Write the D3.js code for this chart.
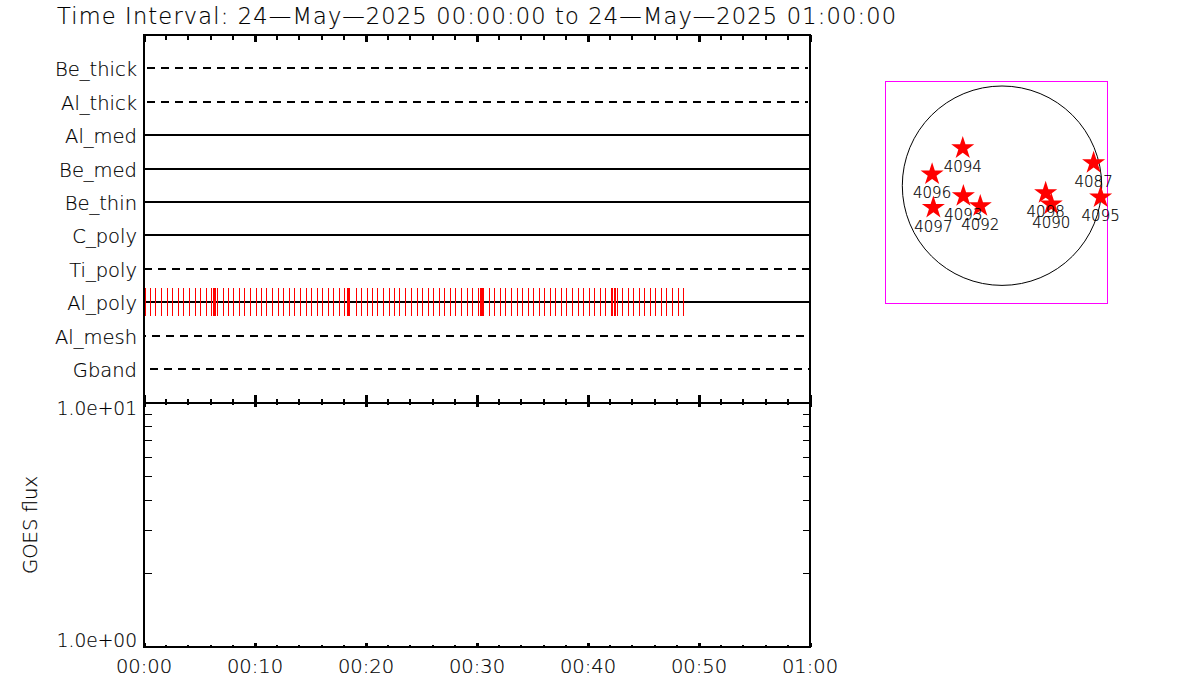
<!DOCTYPE html>
<html><head><meta charset="utf-8">
<script src="https://cdnjs.cloudflare.com/ajax/libs/d3/7.8.5/d3.min.js"></script>
<style>html,body{margin:0;padding:0;background:#fff}svg{display:block}
text{font-family:"DejaVu Sans";font-weight:200;fill:#000;stroke:#000;stroke-width:.18px}</style></head><body>
<svg id="c" width="1200" height="700"></svg>
<script>
const titleText = "Time Interval: 24-May-2025 00:00:00 to 24-May-2025 01:00:00".replace(/-/g,"\u2014");
const filters = ["Be_thick","Al_thick","Al_med","Be_med","Be_thin","C_poly","Ti_poly","Al_poly","Al_mesh","Gband"];
const filterDashed = [true,true,false,false,false,false,true,false,true,true];
const xTickLabels = ["00:00","00:10","00:20","00:30","00:40","00:50","01:00"];
const fluxTicks = [1,10];
const fluxTickLabels = ["1.0e+00","1.0e+01"];
// exposure times on Al_poly, seconds after 00:00:00
const exposureSeconds = [4.5,33,62,91,123,150,183,210,242,273,304,334,361,372,379,386,395,426,453,482,513,540,572,604,632,659,691,722,751,783,810,842,875,902,934,961,994,1021,1053,1080,1097,1103,1110,1145,1172,1205,1232,1260,1291,1323,1350,1378,1410,1442,1475,1502,1534,1561,1594,1621,1653,1680,1712,1745,1772,1804,1815,1820,1826,1831,1864,1891,1923,1950,1983,2015,2042,2075,2102,2134,2161,2194,2221,2253,2280,2313,2345,2372,2404,2431,2464,2491,2523,2532,2538,2544,2556,2583,2615,2642,2675,2702,2734,2761,2794,2821,2853,2886,2913];
const arNames = ["4094","4096","4093","4097","4092","4098","4090","4087","4095"];
const arSolarX = [-374,-666,-368,-654,-207,416,469,873,940];
const arSolarY = [368,118,-89,-200,-184,-60,-168,226,-101];
const solarRadius = 950;

const svg = d3.select("#c");
const L=144,R=810,T=35,M=403,B=647;
const x = d3.scaleLinear().domain([0,3600]).range([L,R]);
const xExp = d3.scaleLinear().domain([0,3600]).range([L+.5,R+.5]);
const yRow = d3.scalePoint().domain(filters).range([68.25,369.25]);
const yFlux = d3.scaleLog().domain([1,10]).range([B,M]);
const sx = d3.scaleLinear().domain([-solarRadius,solarRadius]).range([902.3,1101.7]);
const sy = d3.scaleLinear().domain([-solarRadius,solarRadius]).range([285.4,86]);

// title
svg.append("text").attr("x",57).attr("y",24).attr("font-size",22.5).attr("textLength",839).attr("lengthAdjust","spacing").text(titleText);

// dash pattern: start of the line and where the first dash begins on it
const dashStyle = {Be_thick:[147,147,808],Al_thick:[147,147,808],Ti_poly:[144,144,810],Al_mesh:[145,138,806],Gband:[150,150,810]};
const rows = svg.append("g");
filters.forEach((f,i)=>{
  const y=Math.round(yRow(f));
  rows.append("text").attr("x",137).attr("y",y+8).attr("text-anchor","end").attr("font-size",19.5).text(f);
  const ds=dashStyle[f];
  const ln=rows.append("line").attr("x1",ds?ds[0]:L).attr("x2",ds?ds[2]:R).attr("y1",y).attr("y2",y)
    .attr("stroke","#000").attr("stroke-width",2).attr("shape-rendering","crispEdges");
  if(filterDashed[i]) ln.attr("stroke-dasharray","8 6").attr("stroke-dashoffset",ds[0]-ds[1]);
});
// exposures
const yAl=Math.round(yRow("Al_poly"));
svg.append("g").selectAll("line").data(exposureSeconds).join("line")
  .attr("x1",d=>Math.floor(xExp(d))+.5).attr("x2",d=>Math.floor(xExp(d))+.5).attr("y1",yAl-14).attr("y2",yAl+14)
  .attr("stroke","#f00").attr("stroke-width",1).attr("shape-rendering","crispEdges");
rows.append("line").attr("x1",L).attr("x2",R).attr("y1",yAl).attr("y2",yAl).attr("stroke","#000").attr("stroke-width",2).attr("shape-rendering","crispEdges");

// time axes
const majors=d3.range(0,3601,600), minors=d3.range(0,3601,120).filter(d=>d%600);
function timeTicks(y,up,down,upM,downM){
  const g=svg.append("g").attr("shape-rendering","crispEdges").attr("stroke","#000");
  g.selectAll("line.mi").data(minors).join("line").attr("class","mi").attr("x1",x).attr("x2",x).attr("y1",y-up).attr("y2",y+down).attr("stroke-width",2);
  g.selectAll("line.ma").data(majors).join("line").attr("class","ma").attr("x1",x).attr("x2",x).attr("y1",y-upM).attr("y2",y+downM).attr("stroke-width",3);
}
timeTicks(T,0,5,0,7); timeTicks(M,4,2,8,4); timeTicks(B,2,0,4,0);
// frames
svg.append("g").attr("fill","none").attr("stroke","#000").attr("stroke-width",2).attr("shape-rendering","crispEdges")
  .selectAll("rect").data([[T,M],[M,B]]).join("rect").attr("x",L).attr("width",R-L).attr("y",d=>d[0]).attr("height",d=>d[1]-d[0]);

// flux minor ticks
const fluxMinor=d3.range(2,10);
[[L,L+8],[R,R-7]].forEach(([a,b])=>{
  svg.append("g").selectAll("line").data(fluxMinor).join("line").attr("x1",a).attr("x2",b).attr("y1",yFlux).attr("y2",yFlux)
    .attr("stroke","#000").attr("shape-rendering","crispEdges");
});
// flux labels
svg.append("g").selectAll("text").data(fluxTicks).join("text").attr("x",137).attr("y",d=>yFlux(d)+(d===1?0:12))
  .attr("text-anchor","end").attr("font-size",18.6).text((d,i)=>fluxTickLabels[i]);
svg.append("text").attr("transform","translate(37,525) rotate(-90)").attr("text-anchor","middle").attr("font-size",19.6).text("GOES flux");
// time labels
svg.append("g").selectAll("text").data(xTickLabels).join("text").attr("x",(d,i)=>x(majors[i])).attr("y",673)
  .attr("text-anchor","middle").attr("font-size",19.5).text(d=>d);

// solar inset
svg.append("rect").attr("x",885.5).attr("y",81.5).attr("width",222).attr("height",222).attr("fill","none").attr("stroke","#f0f").attr("stroke-width",1);
svg.append("circle").attr("cx",sx(0)).attr("cy",sy(0)).attr("r",sx(solarRadius)-sx(0)).attr("fill","none").attr("stroke","#000").attr("stroke-width",1);
const star=d3.symbol().type(d3.symbolStar).size(165);
arNames.forEach((n,i)=>{
  const px=sx(arSolarX[i]),py=sy(arSolarY[i]);
  svg.append("path").attr("d",star()).attr("transform",`translate(${px},${py+1})`).attr("fill","#f00");
});
arNames.forEach((n,i)=>{
  const px=sx(arSolarX[i]),py=sy(arSolarY[i]);
  svg.append("text").attr("x",px).attr("y",py+25).attr("text-anchor","middle").attr("font-size",15).text(n);
});
</script></body></html>
